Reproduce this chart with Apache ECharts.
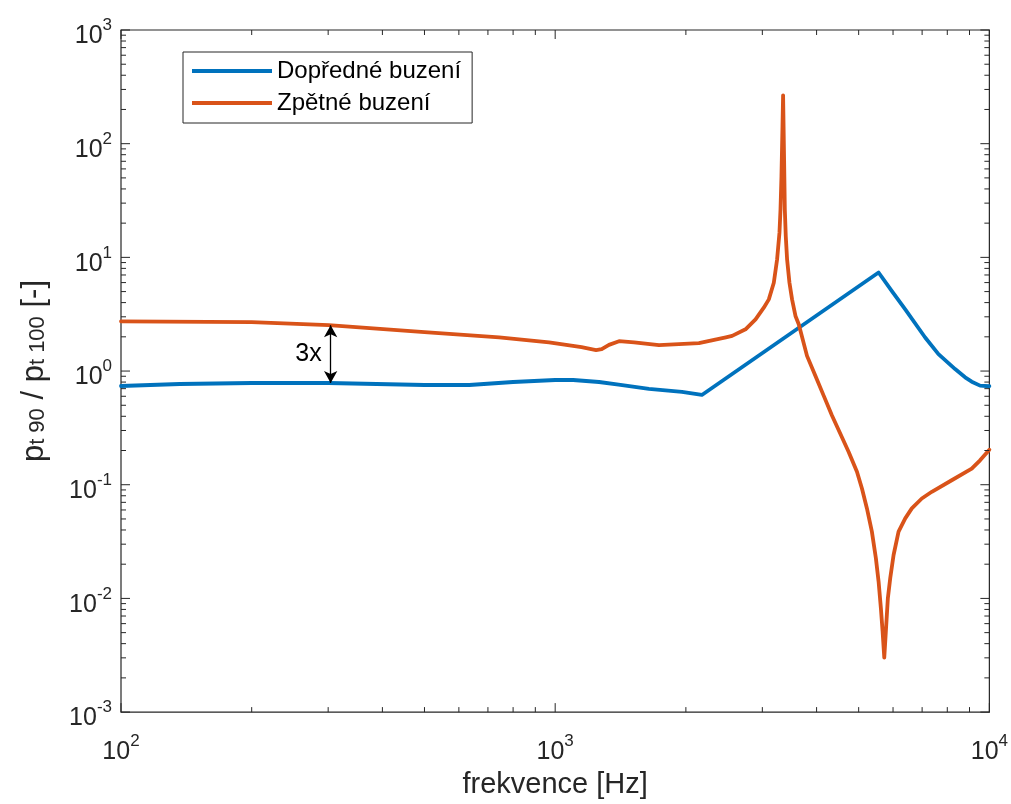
<!DOCTYPE html>
<html><head><meta charset="utf-8">
<script src="https://cdn.jsdelivr.net/npm/echarts@6/dist/echarts.min.js"></script>
<style>html,body{margin:0;padding:0;background:#fff}#c{width:1011px;height:804px}</style>
</head><body><div id="c"></div>
<script>
// ---- data ----
const seriesNames = ['Dopředné buzení', 'Zpětné buzení'];
const blueFreq = [100, 136.6, 200, 300.7, 500, 634, 800, 1000, 1100, 1262, 1400, 1644, 1959, 2177, 5557, 5963, 6401, 7114, 7634, 8339, 8793, 9107, 9519, 10000];
const blueVal  = [0.739, 0.769, 0.785, 0.785, 0.754, 0.754, 0.801, 0.834, 0.834, 0.801, 0.76, 0.696, 0.655, 0.616, 7.36, 5.05, 3.49, 1.973, 1.409, 1.041, 0.881, 0.806, 0.744, 0.735];
const orangeFreq = [100, 200, 300.7, 500, 743, 968, 1150, 1242, 1280, 1330, 1403, 1520, 1734, 2143, 2472, 2556, 2744, 2894, 3023, 3105, 3188, 3244, 3285, 3303, 3320, 3338, 3349, 3367, 3380, 3397, 3421, 3464, 3512, 3576, 3639, 3802, 3974, 4153, 4340, 4537, 4742, 4955, 5088, 5224, 5363, 5478, 5557, 5625, 5676, 5727, 5776, 5838, 5912, 6017, 6178, 6401, 6628, 6989, 7369, 8190, 9107, 9519, 10000];
const orangeVal  = [2.74, 2.69, 2.53, 2.20, 1.98, 1.79, 1.62, 1.53, 1.56, 1.70, 1.83, 1.79, 1.69, 1.76, 1.98, 2.04, 2.33, 2.85, 3.61, 4.27, 5.98, 9.57, 16.4, 26.2, 51.3, 140.6, 266, 71.9, 26.2, 15.3, 9.57, 5.98, 4.27, 3.05, 2.58, 1.36, 0.910, 0.608, 0.406, 0.281, 0.194, 0.130, 0.0926, 0.0619, 0.0387, 0.0226, 0.0141, 0.00824, 0.00515, 0.00301, 0.00515, 0.0101, 0.0151, 0.0241, 0.0387, 0.0506, 0.0619, 0.0757, 0.0867, 0.1095, 0.1386, 0.164, 0.203];
const xTickExps = [2, 3, 4];
const yTickExps = [-3, -2, -1, 0, 1, 2, 3];
const arrowFreq = 304, arrowTopVal = 2.53, arrowBottomVal = 0.785, arrowText = '3x';
const xTitle = 'frekvence [Hz]';

// ---- styling ----
const FONT = '"Liberation Sans", Arial, Helvetica, sans-serif';
const AX = '#262626';
const BLUE = '#0072BD', ORANGE = '#D95319';

const tickRich = {
  b: {fontSize: 25, fontFamily: FONT, color: AX, lineHeight: 22, verticalAlign: 'bottom'},
  s: {fontSize: 17, fontFamily: FONT, color: AX, lineHeight: 17, padding: [0, 0, 15, 0], verticalAlign: 'bottom'}
};
function expLabel(v) { const e = Math.round(Math.log10(v)); return '{b|10}{s|' + e + '}'; }

// tick marks (major + log minor), built from exponent lists
const tickData = [];
for (let i = 0; i < xTickExps.length; i++) {
  const e = xTickExps[i];
  tickData.push([Math.pow(10, e), 1, 1, 0]);
  if (i < xTickExps.length - 1) for (let m = 2; m <= 9; m++) tickData.push([m * Math.pow(10, e), 1, 0, 0]);
}
for (let i = 0; i < yTickExps.length; i++) {
  const e = yTickExps[i];
  tickData.push([100, Math.pow(10, e), 1, 1]);
  if (i < yTickExps.length - 1) for (let m = 2; m <= 9; m++) tickData.push([100, m * Math.pow(10, e), 0, 1]);
}

const chart = echarts.init(document.getElementById('c'), null, {renderer: 'canvas'});
const option = {
  animation: false,
  backgroundColor: '#fff',
  grid: {left: 121, right: 20, top: 30, bottom: 89, show: true, borderColor: AX, borderWidth: 1.2, backgroundColor: '#fff'},
  legend: {
    data: seriesNames, orient: 'vertical', left: 183, top: 52,
    padding: [7, 11, 8, 9], itemGap: 8, itemWidth: 80, itemHeight: 4, icon: 'rect',
    borderColor: AX, borderWidth: 1, backgroundColor: '#fff',
    textStyle: {fontSize: 24, fontFamily: FONT, color: '#000', lineHeight: 24},
    selectedMode: false
  },
  xAxis: {
    type: 'log', logBase: 10, min: 100, max: 10000, interval: 1,
    axisLine: {show: false}, axisTick: {show: false}, splitLine: {show: false},
    axisLabel: {formatter: expLabel, rich: tickRich, margin: 31, showMinLabel: true, showMaxLabel: true},
    name: xTitle, nameLocation: 'middle', nameGap: 48,
    nameTextStyle: {fontSize: 29, fontFamily: FONT, color: AX}
  },
  yAxis: {
    type: 'log', logBase: 10, min: 0.001, max: 1000, interval: 1,
    axisLine: {show: false}, axisTick: {show: false}, splitLine: {show: false},
    axisLabel: {formatter: expLabel, rich: tickRich, margin: 9, padding: [16, 0, 0, 0], showMinLabel: true, showMaxLabel: true},
    name: '{p|p}{sub|t 90}{p| / p}{sub|t 100}{p| [-]}', nameLocation: 'middle', nameRotate: 90, nameGap: 72,
    nameTextStyle: {rich: {
      p: {fontSize: 31, fontFamily: FONT, color: AX, lineHeight: 30, verticalAlign: 'top'},
      sub: {fontSize: 22, fontFamily: FONT, color: AX, lineHeight: 22, padding: [11, 0, 0, 0], verticalAlign: 'bottom'}
    }}
  },
  series: [
    {
      name: seriesNames[0], type: 'line', symbol: 'none', z: 2,
      data: blueFreq.map((f, i) => [f, blueVal[i]]),
      lineStyle: {color: BLUE, width: 3.8, cap: 'round', join: 'round'}, itemStyle: {color: BLUE}
    },
    {
      name: seriesNames[1], type: 'line', symbol: 'none', z: 3,
      data: orangeFreq.map((f, i) => [f, orangeVal[i]]),
      lineStyle: {color: ORANGE, width: 3.8, cap: 'round', join: 'round'}, itemStyle: {color: ORANGE},
      markLine: {
        silent: true, symbol: ['arrow', 'arrow'], symbolSize: [10, 12],
        lineStyle: {color: '#000', width: 1.3, type: 'solid'}, label: {show: false},
        data: [[{coord: [arrowFreq, arrowTopVal]}, {coord: [arrowFreq, arrowBottomVal]}]]
      }
    },
    {
      type: 'custom', coordinateSystem: 'cartesian2d', z: 10, silent: true, clip: false,
      data: tickData,
      renderItem: function (params, api) {
        const cs = params.coordSys;
        const len = api.value(2) ? 9 : 5;
        const style = {stroke: AX, lineWidth: 1};
        if (api.value(3) === 0) {
          const px = api.coord([api.value(0), 1])[0];
          const yb = cs.y + cs.height, yt = cs.y;
          return {type: 'group', children: [
            {type: 'line', shape: {x1: px, y1: yb, x2: px, y2: yb - len}, style: style},
            {type: 'line', shape: {x1: px, y1: yt, x2: px, y2: yt + len}, style: style}
          ]};
        } else {
          const py = api.coord([100, api.value(1)])[1];
          const xl = cs.x, xr = cs.x + cs.width;
          return {type: 'group', children: [
            {type: 'line', shape: {x1: xl, y1: py, x2: xl + len, y2: py}, style: style},
            {type: 'line', shape: {x1: xr, y1: py, x2: xr - len, y2: py}, style: style}
          ]};
        }
      }
    }
  ]
};
chart.setOption(option);
const pTop = chart.convertToPixel({xAxisIndex: 0, yAxisIndex: 0}, [arrowFreq, arrowTopVal]);
const pBot = chart.convertToPixel({xAxisIndex: 0, yAxisIndex: 0}, [arrowFreq, arrowBottomVal]);
chart.setOption({graphic: [{
  type: 'text', x: pTop[0] - 9, y: (pTop[1] + pBot[1]) / 2, z: 20,
  style: {text: arrowText, fontSize: 25, fontFamily: FONT, fill: '#000', align: 'right', verticalAlign: 'middle'}
}]});
</script>
</body></html>
